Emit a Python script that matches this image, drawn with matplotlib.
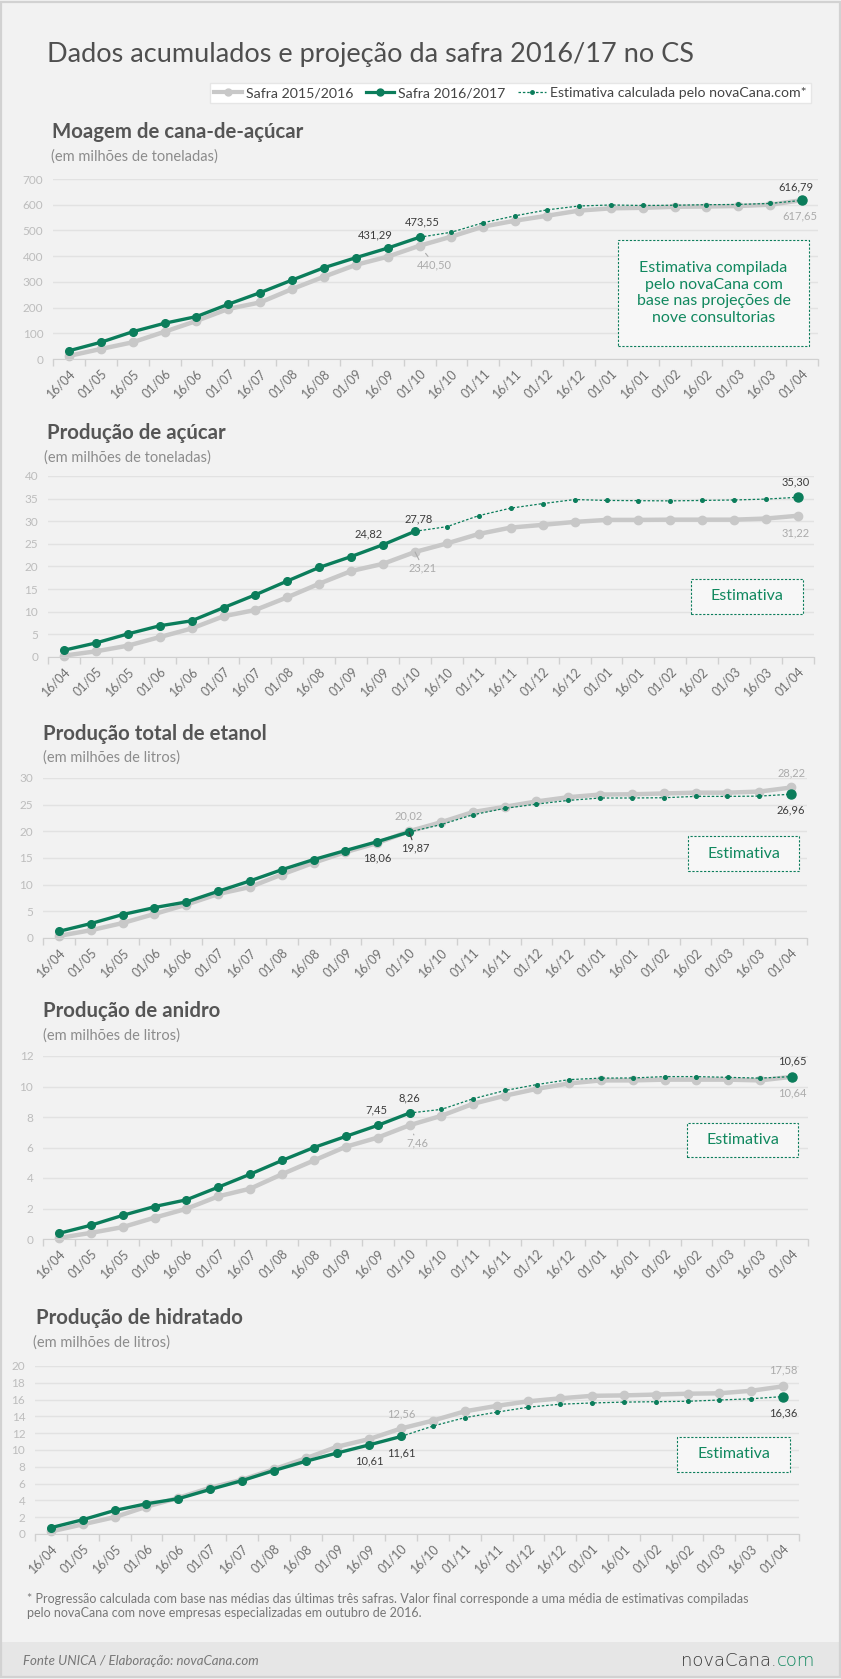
import matplotlib
matplotlib.use("Agg")
import matplotlib.pyplot as plt
from matplotlib.lines import Line2D
from matplotlib.patches import Rectangle
import numpy as np

plt.rcParams['font.family'] = ['Lato', 'DejaVu Sans']

# categorias (quinzenas)
cats = ['16/04', '01/05', '16/05', '01/06', '16/06', '01/07', '16/07', '01/08',
        '16/08', '01/09', '16/09', '01/10', '16/10', '01/11', '16/11', '01/12',
        '16/12', '01/01', '16/01', '01/02', '16/02', '01/03', '16/03', '01/04']

# Moagem de cana-de-acucar
moagem_1516 = [12, 39, 65, 106, 148, 195, 220, 272, 320, 366, 398, 440.50,
               476, 515, 538, 557, 577, 586, 588, 592, 593, 595, 600, 617.65]
moagem_1617 = [32, 65, 106, 139, 165, 213, 258, 307, 355, 394, 431.29, 473.55]
moagem_est = [473.55, 493, 530, 557, 580, 595, 599, 597, 598, 600, 601, 605, 616.79]

# Producao de acucar
acucar_1516 = [0.3, 1.25, 2.5, 4.4, 6.3, 9.0, 10.4, 13.2, 16.2, 19.0, 20.6, 23.21,
               25.1, 27.2, 28.6, 29.2, 29.85, 30.3, 30.3, 30.35, 30.35, 30.35, 30.6, 31.22]
acucar_1617 = [1.5, 3.1, 5.1, 6.9, 8.0, 10.9, 13.75, 16.8, 19.8, 22.2, 24.82, 27.78]
acucar_est = [27.78, 28.8, 31.25, 32.9, 33.9, 34.8, 34.6, 34.55, 34.5, 34.6, 34.7, 34.9, 35.30]

# Producao total de etanol
etanol_1516 = [0.4, 1.45, 2.8, 4.5, 6.25, 8.25, 9.55, 11.9, 14.1, 16.1, 17.8, 20.02,
               21.7, 23.6, 24.6, 25.6, 26.4, 26.9, 26.95, 27.1, 27.25, 27.25, 27.45, 28.22]
etanol_1617 = [1.25, 2.7, 4.4, 5.7, 6.75, 8.75, 10.7, 12.8, 14.7, 16.4, 18.06, 19.87]
etanol_est = [19.87, 21.25, 23.1, 24.3, 25.1, 25.8, 26.25, 26.25, 26.3, 26.55, 26.55, 26.6, 26.96]

# Producao de anidro
anidro_1516 = [0.07, 0.4, 0.78, 1.4, 1.98, 2.8, 3.3, 4.25, 5.15, 6.05, 6.65, 7.46,
               8.08, 8.87, 9.4, 9.85, 10.2, 10.4, 10.4, 10.45, 10.45, 10.45, 10.4, 10.64]
anidro_1617 = [0.37, 0.9, 1.55, 2.13, 2.57, 3.4, 4.25, 5.15, 6.0, 6.73, 7.45, 8.26]
anidro_est = [8.26, 8.5, 9.2, 9.74, 10.13, 10.45, 10.55, 10.56, 10.65, 10.65, 10.6, 10.55, 10.65]

# Producao de hidratado
hidratado_1516 = [0.3, 1.15, 2.0, 3.25, 4.3, 5.5, 6.45, 7.7, 9.0, 10.4, 11.3, 12.56,
                  13.5, 14.6, 15.25, 15.8, 16.15, 16.45, 16.5, 16.6, 16.7, 16.75, 17.05, 17.58]
hidratado_1617 = [0.75, 1.7, 2.8, 3.6, 4.2, 5.3, 6.35, 7.55, 8.65, 9.65, 10.61, 11.61]
hidratado_est = [11.61, 12.85, 13.85, 14.5, 15.1, 15.45, 15.6, 15.7, 15.75, 15.8, 15.95, 16.1, 16.36]

titulos = ['Moagem de cana-de-açúcar', 'Produção de açúcar', 'Produção total de etanol',
           'Produção de anidro', 'Produção de hidratado']
unidades = ['(em milhões de toneladas)', '(em milhões de toneladas)', '(em milhões de litros)',
            '(em milhões de litros)', '(em milhões de litros)']
ymax = [700, 40, 30, 12, 20]
ystep = [100, 5, 5, 2, 2]

GRAY = '#c8c8c8'
GREEN = '#0b7d5b'
DARK = '#3c3c3c'
LGRAY = '#ababab'

W, H = 841, 1679
fig = plt.figure(figsize=(W / 100, H / 100), dpi=100, facecolor='#f2f2f2')


def fx(x):
    return x / W


def fy(y):
    return 1 - y / H


# moldura e rodape
fig.add_artist(Rectangle((0, fy(1676)), 1, (1676 - 1642) / H, transform=fig.transFigure,
                         facecolor='#e6e6e6', edgecolor='none', zorder=0))
fig.add_artist(Rectangle((0.001, 0.001), 0.998, 0.998, transform=fig.transFigure,
                         facecolor='none', edgecolor='#d2d2d2', lw=1.6, zorder=5))

fig.text(fx(47), fy(62), 'Dados acumulados e projeção da safra 2016/17 no CS',
         fontsize=19.5, color='#4f4f4f', va='baseline')

# legenda
handles = [Line2D([], [], color=GRAY, lw=3, marker='o', ms=5),
           Line2D([], [], color=GREEN, lw=2.3, marker='o', ms=5),
           Line2D([], [], color=GREEN, lw=0.9, ls=(0, (2, 1.5)), marker='o', ms=2.5)]
fig.legend(handles, ['Safra 2015/2016', 'Safra 2016/2017', 'Estimativa calculada pelo novaCana.com*'],
           loc='center right', bbox_to_anchor=(fx(818), fy(93)), ncol=3, fontsize=10.2,
           frameon=True, fancybox=False, facecolor='white', edgecolor='#e6e6e6', framealpha=1,
           handlelength=2.0, handletextpad=0.25, columnspacing=0.9, borderpad=0.3,
           labelcolor='#444444')

# posicoes dos paineis em pixels: x0, x1, topo, base, titulo (x, y), unidade (x, y)
layout = [(53, 818, 179, 359, 52, 138, 51, 161),
          (48, 814, 476, 657, 47, 439, 44, 462),
          (43, 807, 778, 938, 43, 740, 43, 762),
          (43, 808, 1056, 1239, 43, 1017, 43, 1040),
          (35, 799, 1366, 1534, 36, 1324, 33, 1347)]

series = [(moagem_1516, moagem_1617, moagem_est),
          (acucar_1516, acucar_1617, acucar_est),
          (etanol_1516, etanol_1617, etanol_est),
          (anidro_1516, anidro_1617, anidro_est),
          (hidratado_1516, hidratado_1617, hidratado_est)]

# rotulos: (indice, serie, deslocamento em px (dx, dy), cor, linha guia)
rotulos = [
    [(10, 1, (-12, 13), DARK, False), (11, 1, (3, 15), DARK, False), (11, 0, (15, -19), LGRAY, True),
     (23, 2, (-6, 13), DARK, False), (23, 0, (-2, -16), LGRAY, False)],
    [(10, 1, (-15, 11), DARK, False), (11, 1, (4, 12), DARK, False), (11, 0, (8, -16), LGRAY, True),
     (23, 2, (-2, 15), DARK, False), (23, 0, (-2, -17), LGRAY, False)],
    [(10, 1, (0, -16), DARK, False), (11, 1, (6, -16), DARK, True), (11, 0, (0, 15), LGRAY, False),
     (23, 0, (0, 15), LGRAY, False), (23, 2, (0, -16), DARK, False)],
    [(10, 1, (-1, 15), DARK, False), (11, 1, (0, 15), DARK, False), (11, 0, (8, -18), LGRAY, True),
     (23, 2, (0, 16), DARK, False), (23, 0, (0, -16), LGRAY, False)],
    [(10, 1, (0, -16), DARK, False), (11, 1, (0, -16), DARK, False), (11, 0, (0, 15), LGRAY, False),
     (23, 0, (0, 16), LGRAY, False), (23, 2, (0, -16), DARK, False)],
]

# caixas "Estimativa" em pixels: x0, y0, x1, y1
caixas = [(618, 240, 809, 346), (691, 579, 803, 614), (688, 836, 799, 871),
          (687, 1123, 798, 1157), (677, 1437, 790, 1472)]
textos_caixa = ['Estimativa compilada\npelo novaCana com\nbase nas projeções de\nnove consultorias',
                'Estimativa', 'Estimativa', 'Estimativa', 'Estimativa']

x = np.arange(len(cats))
for i in range(5):
    x0, x1, yt, yb, tx, ty, sx, sy = layout[i]
    prev, cur, est = series[i]
    ax = fig.add_axes([fx(x0), fy(yb), (x1 - x0) / W, (yb - yt) / H])
    ax.set_facecolor('none')

    ax.plot(x, prev, color=GRAY, lw=3.2, marker='o', ms=6, zorder=2, clip_on=False)
    ax.plot(x[11:], est, color=GREEN, lw=0.9, ls=(0, (2, 1.5)), marker='o', ms=2.6, zorder=3, clip_on=False)
    ax.plot(x[-1], est[-1], 'o', color=GREEN, ms=6.5, zorder=4, clip_on=False)
    ax.plot(x[:12], cur, color=GREEN, lw=2.4, marker='o', ms=5.5, zorder=4, clip_on=False)

    ax.set_xlim(-0.5, len(cats) - 0.5)
    ax.set_ylim(0, ymax[i])
    ax.set_yticks(np.arange(0, ymax[i] + ystep[i] / 2, ystep[i]))
    ax.grid(axis='y', color='#e2e2e2', lw=1)
    ax.set_axisbelow(True)
    for s in ['top', 'right', 'left']:
        ax.spines[s].set_visible(False)
    ax.spines['bottom'].set_color('#d0d0d0')

    ax.set_xticks(x)
    ax.set_xticklabels(cats, rotation=45, ha='right', va='top', rotation_mode='anchor')
    ax.set_xticks(np.arange(-0.5, len(cats), 1), minor=True)
    ax.tick_params(axis='x', which='major', length=0, pad=6, labelsize=9, labelcolor='#707070')
    ax.tick_params(axis='x', which='minor', length=5, width=1, color='#d0d0d0')
    ax.tick_params(axis='y', length=0, pad=7, labelsize=8.5, labelcolor='#bdbdbd')

    for idx, s, (dx, dy), cor, guia in rotulos[i]:
        if s == 0:
            xi, val = x[idx], prev[idx]
        elif s == 1:
            xi, val = x[idx], cur[idx]
        else:
            xi, val = x[idx], est[idx - 11]
        txt = f'{val:.2f}'.replace('.', ',')
        arrow = dict(arrowstyle='-', color=cor, lw=0.8, shrinkA=0, shrinkB=7) if guia else None
        ax.annotate(txt, (xi, val), xytext=(dx * 0.72, dy * 0.72), textcoords='offset points',
                    ha='center', va='center', fontsize=8, color=cor, arrowprops=arrow, zorder=6)

    fig.text(fx(tx), fy(ty), titulos[i], fontsize=14.7, fontweight='bold', color='#555555', va='baseline')
    fig.text(fx(sx), fy(sy), unidades[i], fontsize=10.5, color='#8c8c8c', va='baseline')

    bx0, by0, bx1, by1 = caixas[i]
    fig.add_artist(Rectangle((fx(bx0), fy(by1)), (bx1 - bx0) / W, (by1 - by0) / H,
                             transform=fig.transFigure, facecolor='#f7f7f7', edgecolor=GREEN,
                             lw=0.8, ls=(0, (2, 1.5)), zorder=3))
    fig.text(fx((bx0 + bx1) / 2), fy((by0 + by1) / 2), textos_caixa[i], ha='center', va='center',
             fontsize=11.5, color='#11885f', linespacing=1.25, zorder=4)

# notas
fig.text(fx(27), fy(1603), '* Progressão calculada com base nas médias das últimas três safras. '
         'Valor final corresponde a uma média de estimativas compiladas', fontsize=9, color='#777777',
         va='baseline')
fig.text(fx(27), fy(1617), 'pelo novaCana com nove empresas especializadas em outubro de 2016.',
         fontsize=9, color='#777777', va='baseline')
fig.text(fx(23), fy(1665), 'Fonte UNICA / Elaboração: novaCana.com', fontsize=9.5, style='italic',
         color='#777777', va='baseline')
t = fig.text(fx(815), fy(1666), 'com', fontsize=13, color='#11885f', ha='right', va='baseline',
             family='DejaVu Sans', fontweight='light')
fig.canvas.draw()
bb = t.get_window_extent()
fig.text(bb.x0 / W, fy(1666), 'novaCana.', fontsize=13, color='#3a3a3a', ha='right', va='baseline',
         family='DejaVu Sans', fontweight='light')

fig.savefig('out.png', dpi=100, facecolor=fig.get_facecolor())
